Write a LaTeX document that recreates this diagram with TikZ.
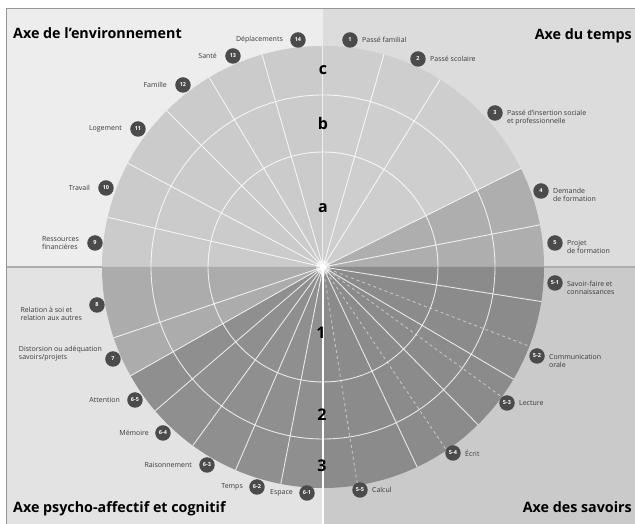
\documentclass[tikz,border=0pt]{standalone}
\usepackage{fontspec}
\setmainfont{Open Sans}
\usepackage{tikz}
\usetikzlibrary{positioning}
\definecolor{fondenv}{HTML}{EDEDED}
\definecolor{fondtemps}{HTML}{DCDCDC}
\definecolor{fondpsy}{HTML}{E3E3E3}
\definecolor{fondsav}{HTML}{CACACA}
\definecolor{secenv}{HTML}{CBCBCB}
\definecolor{sectemps}{HTML}{CECECE}
\definecolor{secprojet}{HTML}{AEAEAE}
\definecolor{secrel}{HTML}{ACACAC}
\definecolor{seccog}{HTML}{8F8F8F}
\definecolor{secsav}{HTML}{8B8B8B}
\definecolor{pastille}{HTML}{4B4B4B}
\definecolor{texte}{HTML}{3A3A3A}
\definecolor{cadre}{HTML}{8E9C8E}

\begin{document}
\begin{tikzpicture}[
  x=1pt, y=1pt,
  font=\fontsize{7}{8}\selectfont,
  badge/.style={circle, fill=pastille, text=white, inner sep=0pt, minimum size=15.5pt,
                font=\fontsize{5.5}{6}\selectfont\bfseries},
  lbl/.style={text=texte, align=left, inner sep=1pt},
  axe/.style={font=\fontsize{14.3}{16}\selectfont\bfseries, inner sep=0pt},
  grad/.style={font=\fontsize{16}{18}\selectfont\bfseries, inner sep=0pt},
  rayon/.style={draw=white, line width=0.9pt, opacity=.8},
  pointille/.style={draw=white, line width=0.9pt, dash pattern=on 3pt off 3pt, opacity=.5},
]
\useasboundingbox (-323,-257) rectangle (312,267);
% fond en quatre quarts
\fill[white] (-323,-257) rectangle (312,267);
\fill[fondenv]   (-316,0) rectangle (0,258);
\fill[fondtemps] (0,0) rectangle (312,258);
\fill[fondpsy]   (-316,-257) rectangle (0,0);
\fill[fondsav]   (0,-257) rectangle (312,0);
\draw[cadre, line width=1pt] (-316,-257) -- (-316,258) -- (312,258);
\draw[black!32, line width=2pt] (-316,0) -- (312,0);
% secteurs
\fill[secenv]    (0,0) -- (90:221) arc[start angle=90, end angle=180, radius=221] -- cycle;
\fill[sectemps]  (0,0) -- (26.5:221) arc[start angle=26.5, end angle=90, radius=221] -- cycle;
\fill[secprojet] (0,0) -- (0:221) arc[start angle=0, end angle=26.5, radius=221] -- cycle;
\fill[secrel]    (0,0) -- (180:221) arc[start angle=180, end angle=209.5, radius=221] -- cycle;
\fill[seccog]    (0,0) -- (209.5:221) arc[start angle=209.5, end angle=270, radius=221] -- cycle;
\fill[secsav]    (0,0) -- (270:221) arc[start angle=270, end angle=360, radius=221] -- cycle;
% anneaux et rayons
\draw[rayon] (0,0) circle[radius=115];
\draw[rayon] (0,0) circle[radius=172];
\foreach \a in {11,26.5,58,74,106,121,135,152,167,198.7,209.5,220.6,233.9,246.7,259,295.2,314.5,329.5,351}
  \draw[rayon] (0,0) -- (\a:221);
\foreach \a in {279,304,324,339}
  \draw[pointille] (0,0) -- (\a:221);
\draw[white, line width=1.5pt] (0,-257) -- (0,0);
\draw[white, line width=1pt, opacity=.7] (0,0) -- (0,221);
\fill[white, opacity=.5] (0,0) circle[radius=7];
\fill[white] (0,0) circle[radius=3];
% graduations
\node[grad] (gc) at (0,197) {c};
\node[grad] (gb) at (0,143) {b};
\node[grad] (ga) at (0,59) {a};
\node[grad] (g1) at (-2,-66) {1};
\node[grad] (g2) at (-1,-148) {2};
\node[grad] (g3) at (-1,-199) {3};
% titres des axes
\node[axe, anchor=base west] (tenv)   at (-310,228)  {Axe de l'environnement};
\node[axe, anchor=base east] (ttemps) at (309,227)   {Axe du temps};
\node[axe, anchor=base west] (tpsy)   at (-310,-246) {Axe psycho-affectif et cognitif};
\node[axe, anchor=base east] (tsav)   at (309,-246)  {Axe des savoirs};
% axe du temps
\node[badge] (b1) at (27,227)  {1};
\node[badge] (b2) at (95,208)  {2};
\node[badge] (b3) at (172,154) {3};
\node[badge] (b4) at (218,76)  {4};
\node[badge] (b5) at (232,24)  {5};
\node[lbl, right=3pt of b1] (l1) {Passé familial};
\node[lbl, right=3pt of b2] (l2) {Passé scolaire};
\node[lbl, right=3pt of b3, yshift=-5pt] (l3) {Passé d'insertion sociale\\et professionnelle};
\node[lbl, right=3pt of b4, yshift=-4pt] (l4) {Demande\\de formation};
\node[lbl, right=3pt of b5, yshift=-4pt] (l5) {Projet\\de formation};
% axe des savoirs
\node[badge] (b51) at (232,-16)  {5-1};
\node[badge] (b52) at (214,-89)  {5-2};
\node[badge] (b53) at (184,-136) {5-3};
\node[badge] (b54) at (130,-186) {5-4};
\node[badge] (b55) at (37,-223)  {5-5};
\node[lbl, right=3pt of b51, yshift=-5pt] (l51) {Savoir-faire et\\connaissances};
\node[lbl, right=3pt of b52, yshift=-5pt] (l52) {Communication\\orale};
\node[lbl, right=3pt of b53] (l53) {Lecture};
\node[lbl, right=3pt of b54] (l54) {Écrit};
\node[lbl, right=3pt of b55] (l55) {Calcul};
% axe psycho-affectif et cognitif
\node[badge] (b8)  at (-226,-38)  {8};
\node[badge] (b7)  at (-210,-92)  {7};
\node[badge] (b65) at (-188,-133) {6-5};
\node[badge] (b64) at (-160,-166) {6-4};
\node[badge] (b63) at (-116,-198) {6-3};
\node[badge] (b62) at (-66,-220)  {6-2};
\node[badge] (b61) at (-16,-226)  {6-1};
\node[lbl, left=6pt of b8, yshift=-9pt] (l8) {Relation à soi et\\relation aux autres};
\node[lbl, left=2pt of b7, yshift=5pt]  (l7) {Distorsion ou adéquation\\savoirs/projets};
\node[lbl, left=6pt of b65] (l65) {Attention};
\node[lbl, left=5pt of b64] (l64) {Mémoire};
\node[lbl, left=6pt of b63] (l63) {Raisonnement};
\node[lbl, left=5pt of b62] (l62) {Temps};
\node[lbl, left=5pt of b61] (l61) {Espace};
% axe de l'environnement
\node[badge] (b9)  at (-228,24)  {9};
\node[badge] (b10) at (-217,79)  {10};
\node[badge] (b11) at (-185,138) {11};
\node[badge] (b12) at (-140,182) {12};
\node[badge] (b13) at (-90,211)  {13};
\node[badge] (b14) at (-25,227)  {14};
\node[lbl, left=7pt of b9] (l9) {Ressources\\financières};
\node[lbl, left=7pt of b10] (l10) {Travail};
\node[lbl, left=7pt of b11] (l11) {Logement};
\node[lbl, left=7pt of b12] (l12) {Famille};
\node[lbl, left=7pt of b13] (l13) {Santé};
\node[lbl, left=6pt of b14] (l14) {Déplacements};
\end{tikzpicture}
\end{document}
